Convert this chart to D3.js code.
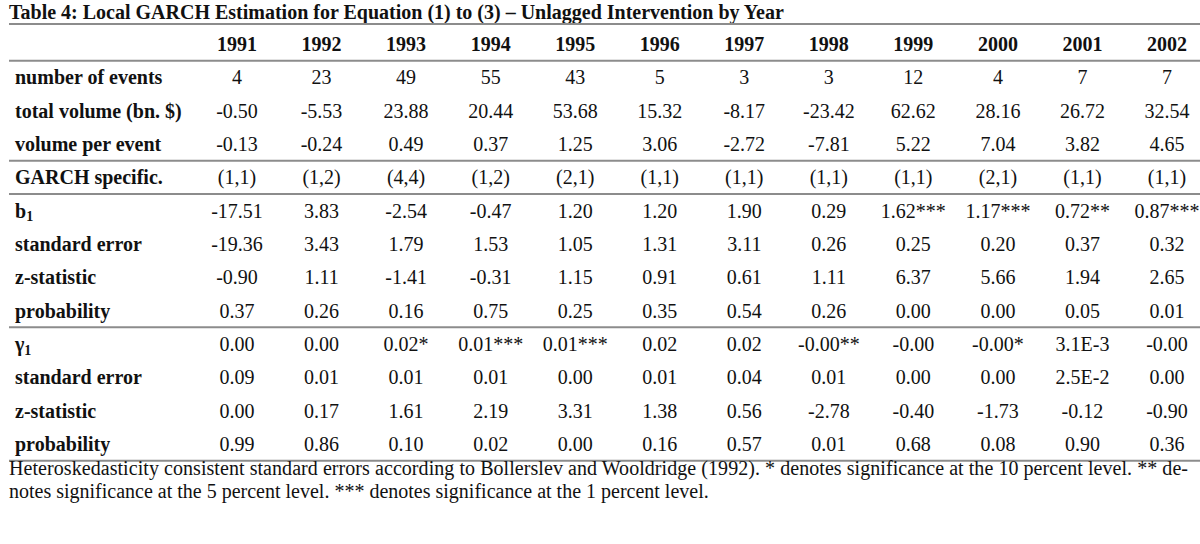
<!DOCTYPE html>
<html>
<head>
<meta charset="utf-8">
<script src="https://cdn.jsdelivr.net/npm/d3@7"></script>
<style>
  html, body { margin: 0; padding: 0; background: #fff; }
  svg { display: block; }
  text { font-family: "Liberation Serif", "Times New Roman", serif; fill: #111; }
</style>
</head>
<body>
<svg id="chart" width="1200" height="544"></svg>
<script>
// table data
var years = ["1991", "1992", "1993", "1994", "1995", "1996", "1997", "1998", "1999", "2000", "2001", "2002"];
var rowLabels = [
  "number of events", "total volume (bn. $)", "volume per event", "GARCH specific.",
  "b1", "standard error", "z-statistic", "probability",
  "γ1", "standard error", "z-statistic", "probability"
];
var numberOfEvents = ["4", "23", "49", "55", "43", "5", "3", "3", "12", "4", "7", "7"];
var totalVolume = ["-0.50", "-5.53", "23.88", "20.44", "53.68", "15.32", "-8.17", "-23.42", "62.62", "28.16", "26.72", "32.54"];
var volumePerEvent = ["-0.13", "-0.24", "0.49", "0.37", "1.25", "3.06", "-2.72", "-7.81", "5.22", "7.04", "3.82", "4.65"];
var garchSpec = ["(1,1)", "(1,2)", "(4,4)", "(1,2)", "(2,1)", "(1,1)", "(1,1)", "(1,1)", "(1,1)", "(2,1)", "(1,1)", "(1,1)"];
var b1 = ["-17.51", "3.83", "-2.54", "-0.47", "1.20", "1.20", "1.90", "0.29", "1.62***", "1.17***", "0.72**", "0.87***"];
var b1Se = ["-19.36", "3.43", "1.79", "1.53", "1.05", "1.31", "3.11", "0.26", "0.25", "0.20", "0.37", "0.32"];
var b1Z = ["-0.90", "1.11", "-1.41", "-0.31", "1.15", "0.91", "0.61", "1.11", "6.37", "5.66", "1.94", "2.65"];
var b1P = ["0.37", "0.26", "0.16", "0.75", "0.25", "0.35", "0.54", "0.26", "0.00", "0.00", "0.05", "0.01"];
var g1 = ["0.00", "0.00", "0.02*", "0.01***", "0.01***", "0.02", "0.02", "-0.00**", "-0.00", "-0.00*", "3.1E-3", "-0.00"];
var g1Se = ["0.09", "0.01", "0.01", "0.01", "0.00", "0.01", "0.04", "0.01", "0.00", "0.00", "2.5E-2", "0.00"];
var g1Z = ["0.00", "0.17", "1.61", "2.19", "3.31", "1.38", "0.56", "-2.78", "-0.40", "-1.73", "-0.12", "-0.90"];
var g1P = ["0.99", "0.86", "0.10", "0.02", "0.00", "0.16", "0.57", "0.01", "0.68", "0.08", "0.90", "0.36"];
var rowValues = [numberOfEvents, totalVolume, volumePerEvent, garchSpec, b1, b1Se, b1Z, b1P, g1, g1Se, g1Z, g1P];
// rule drawn under these rows (index in rowLabels)
var rulesAfter = [2, 3, 7, 11];

var title = "Table 4: Local GARCH Estimation for Equation (1) to (3) \u2013 Unlagged Intervention by Year";
var footnote = [
  "Heteroskedasticity consistent standard errors according to Bollerslev and Wooldridge (1992). * denotes significance at the 10 percent level. ** de-",
  "notes significance at the 5 percent level. *** denotes significance at the 1 percent level."
];

var svg = d3.select("#chart");
var left = 9, right = 1200;

var x = d3.scalePoint().domain(years).range([237, 1167]);
var rowKeys = ["header"].concat(d3.range(rowLabels.length));
var y = d3.scalePoint().domain(rowKeys).range([44, 444]);
var step = y.step();

// title
svg.append("text")
  .attr("x", left).attr("y", 19)
  .style("font-weight", "bold").style("font-size", "20px")
  .text(title);

// rules
var ruleY = [y("header") - step * 0.6, y("header") + step / 2]
  .concat(rulesAfter.map(function (i) { return y(i) + step / 2; }));
svg.append("g").selectAll("line")
  .data(ruleY)
  .join("line")
  .attr("x1", left).attr("x2", right)
  .attr("y1", function (d) { return d; }).attr("y2", function (d) { return d; })
  .style("stroke", "#8c8c8c").style("stroke-width", 2);

// header years
svg.append("g").selectAll("text")
  .data(years)
  .join("text")
  .attr("x", function (d) { return x(d); })
  .attr("y", y("header"))
  .attr("dy", "0.35em")
  .attr("text-anchor", "middle")
  .style("font-weight", "bold").style("font-size", "20px")
  .text(function (d) { return d; });

// row labels
var labels = svg.append("g").selectAll("text")
  .data(rowLabels)
  .join("text")
  .attr("x", 15)
  .attr("y", function (d, i) { return y(i); })
  .attr("dy", "0.35em")
  .style("font-weight", "bold").style("font-size", "20px");

labels.each(function (d) {
  var t = d3.select(this);
  if (d === "b1" || d === "γ1") {
    t.append("tspan").text(d.charAt(0));
    t.append("tspan").attr("dy", "0.25em").style("font-size", "14px").text("1");
  } else {
    t.text(d);
  }
});

// cells
svg.append("g").selectAll("g")
  .data(rowValues)
  .join("g")
  .attr("transform", function (d, i) { return "translate(0," + y(i) + ")"; })
  .selectAll("text")
  .data(function (d) { return d; })
  .join("text")
  .attr("x", function (d, j) { return x(years[j]); })
  .attr("dy", "0.35em")
  .attr("text-anchor", "middle")
  .style("font-size", "20px")
  .text(function (d) { return d; });

// footnote
svg.append("g").selectAll("text")
  .data(footnote)
  .join("text")
  .attr("x", left)
  .attr("y", function (d, i) { return 475 + i * 23; })
  .style("font-size", "20px")
  .each(function (d, i) {
    if (i === 0) d3.select(this).attr("textLength", 1179).attr("lengthAdjust", "spacing");
  })
  .text(function (d) { return d; });
</script>
</body>
</html>
